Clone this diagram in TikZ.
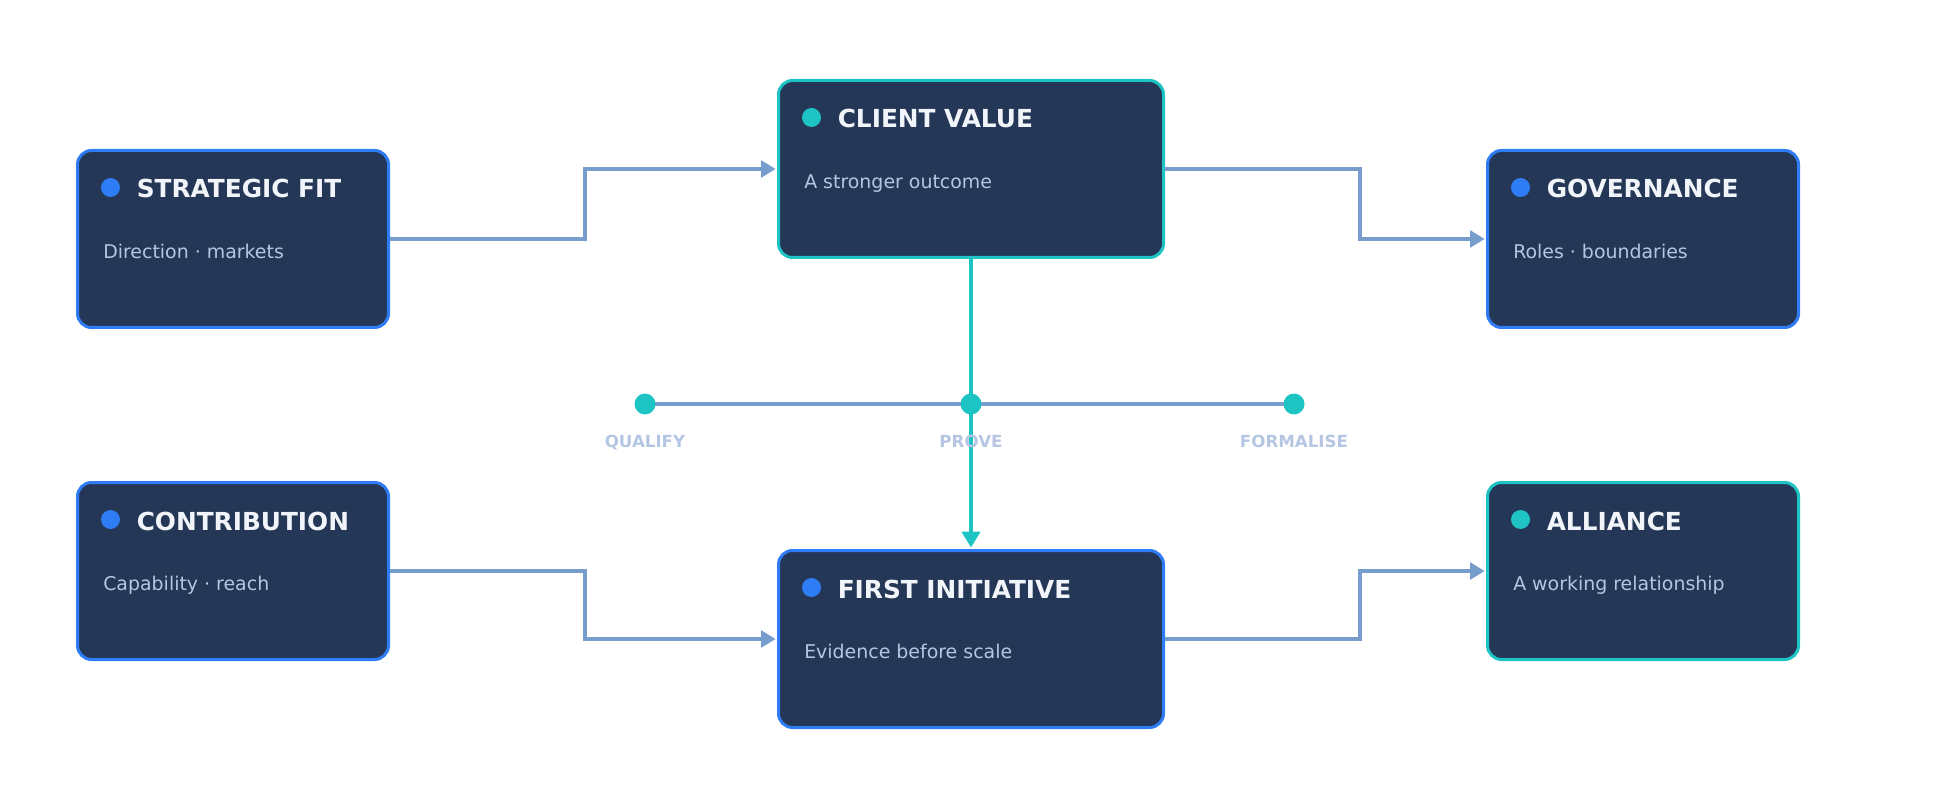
\documentclass[tikz,border=0pt]{standalone}
\usepackage{fontspec}
\setmainfont{DejaVu Sans}
\usepackage{xcolor}
\definecolor{cdNavy}{RGB}{37,55,86}
\definecolor{cdBlue}{RGB}{46,124,246}
\definecolor{cdTeal}{RGB}{30,196,196}
\definecolor{cdSteel}{RGB}{118,157,203}
\definecolor{cdInk}{RGB}{241,245,249}
\definecolor{cdMist}{RGB}{180,198,226}
\usepackage{tikz}
\usetikzlibrary{positioning,arrows.meta,calc}

\begin{document}
\begin{tikzpicture}[x=0.75pt,y=-0.75pt,
  card/.style={draw,line width=2.25pt,rounded corners=10.5pt,fill=cdNavy,minimum height=132.75pt,inner sep=0pt},
  narrow/.style={card,minimum width=233.25pt},
  wide/.style={card,minimum width=288.75pt},
  pin/.style={circle,inner sep=0pt,minimum size=14.25pt},
  ttl/.style={anchor=base west,inner sep=0pt,text=cdInk,font=\bfseries\fontsize{18.6}{20}\selectfont},
  sub/.style={anchor=base west,inner sep=0pt,text=cdMist,font=\fontsize{14.2}{16}\selectfont},
  stage/.style={circle,fill=cdTeal,inner sep=0pt,minimum size=15.75pt},
  stagelbl/.style={anchor=base,inner sep=0pt,text=cdMist,font=\bfseries\fontsize{12.5}{14}\selectfont},
  link/.style={-{Triangle[length=11pt,width=12.5pt]},cdSteel,line width=3.4pt,shorten >=1pt},
  flow/.style={-{Triangle[length=12pt,width=13.5pt]},cdTeal,line width=3.5pt,shorten >=1pt},
  track/.style={cdSteel,line width=2.7pt}]
  \useasboundingbox (0,0) rectangle (1942,809);

  \node[narrow,draw=cdBlue] (fit) at (233,239) {};
  \node[narrow,draw=cdBlue] (contrib) at (233,571) {};
  \node[wide,draw=cdTeal] (value) at (971,169) {};
  \node[wide,draw=cdBlue] (first) at (971,639) {};
  \node[narrow,draw=cdBlue] (gov) at (1643,239) {};
  \node[narrow,draw=cdTeal] (alliance) at (1643,571) {};

  \foreach \n/\c/\t/\s in {fit/cdBlue/STRATEGIC FIT/Direction · markets,
      contrib/cdBlue/CONTRIBUTION/Capability · reach,
      value/cdTeal/CLIENT VALUE/A stronger outcome,
      first/cdBlue/FIRST INITIATIVE/Evidence before scale,
      gov/cdBlue/GOVERNANCE/Roles · boundaries,
      alliance/cdTeal/ALLIANCE/A working relationship}{
    \node[pin,fill=\c] (\n-pin) at ([shift={(34.5,38.5)}]\n.north west) {};
    \node[ttl] (\n-ttl) at ([shift={(60.5,49)}]\n.north west) {\t};
    \node[sub] (\n-sub) at ([shift={(27,109.5)}]\n.north west) {\s};
  }

  \draw[link] (fit.east) -- ++(195,0) |- (value.west);
  \draw[link] (value.east) -- ++(195,0) |- (gov.west);
  \draw[link] (contrib.east) -- ++(195,0) |- (first.west);
  \draw[link] (first.east) -- ++(195,0) |- (alliance.west);

  % timeline
  \coordinate (qualify) at (645,404);
  \coordinate (prove) at (971,404);
  \coordinate (formalise) at (1294,404);
  \draw[track] (qualify) -- (formalise);
  \draw[flow] (value.south) -- (first.north);
  \node[stage] (qualify-dot) at (qualify) {};
  \node[stage] (prove-dot) at (prove) {};
  \node[stage] (formalise-dot) at (formalise) {};
  \node[stagelbl] (qualify-lbl) at (645,447) {QUALIFY};
  \node[stagelbl] (prove-lbl) at (971,447) {PROVE};
  \node[stagelbl] (formalise-lbl) at (1294,447) {FORMALISE};
\end{tikzpicture}
\end{document}
